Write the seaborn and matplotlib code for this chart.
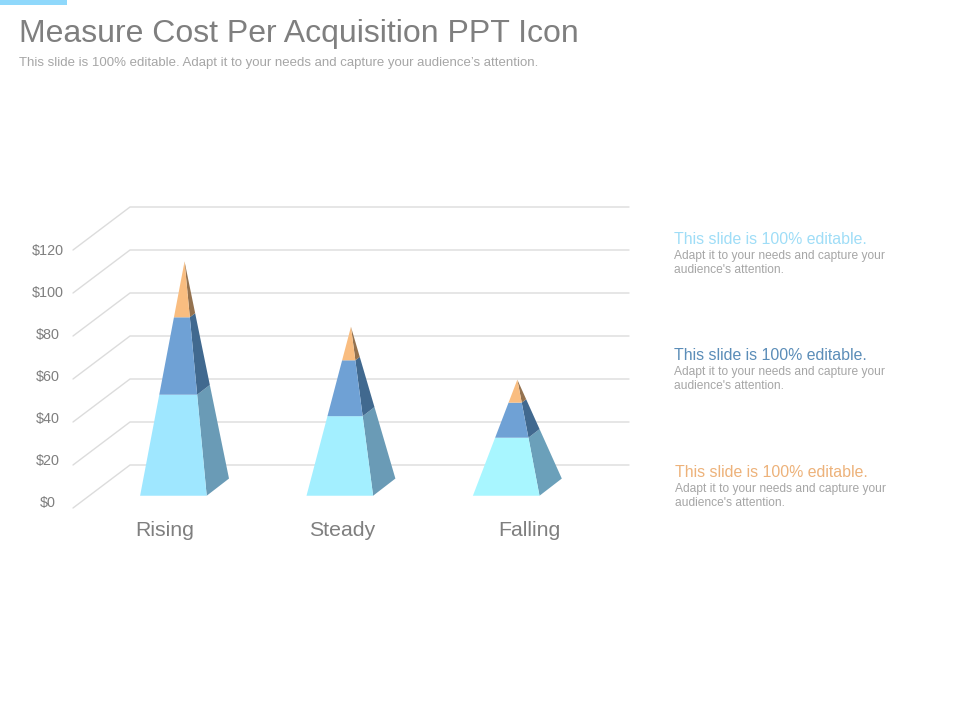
import matplotlib
matplotlib.use("Agg")
import matplotlib.pyplot as plt
import numpy as np
import pandas as pd
import seaborn as sns

# ---------- data ----------
categories = ["Rising", "Steady", "Falling"]
bottom_values = [47.0, 37.0, 27.0]
middle_values = [36.0, 26.0, 16.3]
top_values = [26.0, 15.6, 10.7]
y_ticks = [0, 20, 40, 60, 80, 100, 120]
y_tick_labels = ["$0", "$20", "$40", "$60", "$80", "$100", "$120"]
title_text = "Measure Cost Per Acquisition PPT Icon"
subtitle_text = "This slide is 100% editable. Adapt it to your needs and capture your audience\u2019s attention."
note_head = "This slide is 100% editable."
note_body = ["Adapt it to your needs and capture your", "audience's attention."]

# ---------- style ----------
FIG_W, FIG_H = 960, 720
sns.set_theme(style="white", rc={"font.family": "Liberation Sans"})

bottom_front = ["#9FE7FF", "#A3EFFF", "#A8F6FF"]
bottom_side = ["#6A9BB6", "#6A9BB6", "#6BA0BA"]
middle_front = sns.color_palette(["#6FA1D5"])[0]
middle_side = sns.color_palette(["#41698F"])[0]
top_front = sns.color_palette(["#F9BD80"])[0]
top_side = sns.color_palette(["#94724F"])[0]
grid_color = "#DCDCDC"
GRAY = "#7F7F7F"
LIGHT = "#A6A6A6"
note_colors = ["#9FDDF7", "#5B8DB8", "#EDB27A"]

PITCH = 166.4        # pixels per category step
PX_PER_DOLLAR = 2.15
LEFT, RIGHT, BACK_X = 73, 629, 130
FRONT0 = 508
TOPPX = 207
CENTER0 = 173.4      # pixel of first pyramid's front-face centre

BASE_Y = 5.7         # floor position of pyramids, in dollars
HALF_W = 33.3 / PITCH
DEPTH_X = 22.3 / PITCH
DEPTH_Y = 8.0
WALL_OFFSET = 20     # back wall rises one grid step
LABEL_SCALE = 42 / 43


def px2cat(px):
    return (px - CENTER0) / PITCH


fig = plt.figure(figsize=(FIG_W / 100, FIG_H / 100), dpi=100, facecolor="white")
ax = fig.add_axes([LEFT / FIG_W, 1 - FRONT0 / FIG_H,
                   (RIGHT - LEFT) / FIG_W, (FRONT0 - TOPPX) / FIG_H])
ax.set_xlim(px2cat(LEFT), px2cat(RIGHT))
ax.set_ylim(0, (FRONT0 - TOPPX) / PX_PER_DOLLAR)
ax.patch.set_alpha(0)

# ---------- gridlines: floor diagonal plus back wall ----------
rows = []
for v in y_ticks:
    rows += [
        {"level": v, "x": px2cat(LEFT), "y": v},
        {"level": v, "x": px2cat(BACK_X), "y": v + WALL_OFFSET},
        {"level": v, "x": px2cat(RIGHT), "y": v + WALL_OFFSET},
    ]
grid_df = pd.DataFrame(rows)
sns.lineplot(data=grid_df, x="x", y="y", units="level", estimator=None, sort=False,
             color=grid_color, linewidth=1.0, ax=ax, legend=False, zorder=1)
for line in ax.get_lines():
    line.set_clip_on(False)


# ---------- pyramids ----------
def lerp(a, b, t):
    return a + (b - a) * t


for i, cat in enumerate(categories):
    segs = [bottom_values[i], middle_values[i], top_values[i]]
    total = sum(segs)
    fl = np.array([i - HALF_W, BASE_Y])
    fr = np.array([i + HALF_W, BASE_Y])
    br = fr + np.array([DEPTH_X, DEPTH_Y])
    apex = np.array([(fl[0] + br[0]) / 2, BASE_Y + total])
    fronts = [bottom_front[i], middle_front, top_front]
    sides = [bottom_side[i], middle_side, top_side]
    cum = 0.0
    for seg, fc, sc in zip(segs, fronts, sides):
        t0, t1 = cum / total, (cum + seg) / total
        cum += seg
        side = np.array([lerp(fr, apex, t0), lerp(br, apex, t0),
                         lerp(br, apex, t1), lerp(fr, apex, t1)])
        front = np.array([lerp(fl, apex, t0), lerp(fr, apex, t0),
                          lerp(fr, apex, t1), lerp(fl, apex, t1)])
        ax.fill(side[:, 0], side[:, 1], color=sc, lw=0, zorder=3)
        ax.fill(front[:, 0], front[:, 1], color=fc, lw=0, zorder=4)

# ---------- axes text ----------
sns.despine(ax=ax, left=True, bottom=True)
ax.set_xlabel("")
ax.set_ylabel("")
ax.set_yticks([(FRONT0 - 501) / PX_PER_DOLLAR + v * LABEL_SCALE for v in y_ticks])
ax.set_yticklabels(y_tick_labels, fontsize=10.4, color=GRAY, ha="center")
ax.tick_params(axis="y", length=0, pad=18)
ax.set_xticks([px2cat(165), px2cat(342), px2cat(529)])
ax.set_xticklabels(categories, fontsize=15.3, color=GRAY)
ax.tick_params(axis="x", length=0, pad=9.5)

# ---------- slide furniture ----------
fig.patches.append(plt.Rectangle((0, 1 - 5 / FIG_H), 67 / FIG_W, 5 / FIG_H,
                                 transform=fig.transFigure, color="#8FD8FB", lw=0))


def ptext(x, y, s, size, color):
    fig.text(x / FIG_W, 1 - y / FIG_H, s, fontsize=size, color=color,
             ha="left", va="baseline")


ptext(19, 42, title_text, 23.0, GRAY)
ptext(19, 66, subtitle_text, 9.55, LIGHT)

note_pos = [(674, 244, 259, 273), (674, 360, 375, 389), (675, 477, 492, 506)]
for (x, yh, y1, y2), col in zip(note_pos, note_colors):
    ptext(x, yh, note_head, 11.45, col)
    ptext(x, y1, note_body[0], 8.63, LIGHT)
    ptext(x, y2, note_body[1], 8.63, LIGHT)

fig.savefig("out.png", dpi=100, facecolor="white")
